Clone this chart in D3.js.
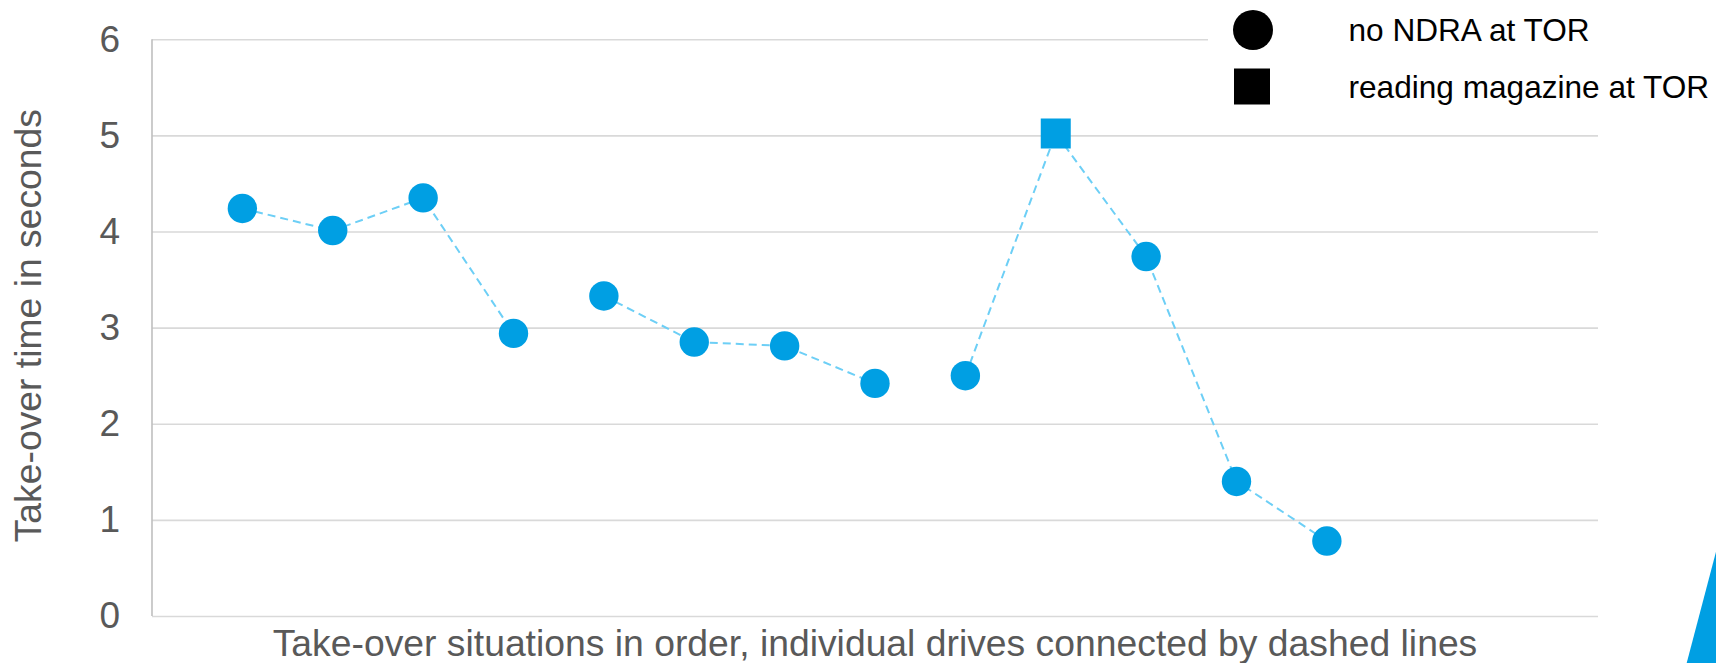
<!DOCTYPE html>
<html>
<head>
<meta charset="utf-8">
<script src="https://cdn.jsdelivr.net/npm/d3@7"></script>
<style>
  html, body { margin: 0; padding: 0; background: #fff; }
  svg { display: block; font-family: "Liberation Sans", Arial, sans-serif; }
</style>
</head>
<body>
<svg id="chart" width="1716" height="663"></svg>
<script>
// Take-over situations, in order of occurrence
const situations = [1, 2, 3, 4, 5, 6, 7, 8, 9, 10, 11, 12, 13];
// Take-over time (s) for each situation
const takeoverTimes = [4.24, 4.01, 4.35, 2.94, 3.33, 2.85, 2.81, 2.42, 2.50, 5.02, 3.74, 1.40, 0.78];
// Which drive each situation belongs to (situations of one drive are joined)
const driveIds = [1, 1, 1, 1, 2, 2, 2, 2, 3, 3, 3, 3, 3];
// Non-driving related activity at the take-over request
const activities = ["none", "none", "none", "none", "none", "none", "none", "none", "none",
                    "magazine", "none", "none", "none"];
const yTicks = [0, 1, 2, 3, 4, 5, 6];
const legendLabels = ["no NDRA at TOR", "reading magazine at TOR"];
const legendShapes = ["circle", "square"];

const W = 1716, H = 663;
const plot = { left: 152, right: 1598, top: 39.3, bottom: 616 };

const svg = d3.select("#chart");

const x = d3.scaleLinear().domain([0, 16]).range([plot.left, plot.right]);
const y = d3.scaleLinear().domain([0, 6]).range([plot.bottom, plot.top]);

const points = situations.map((s, i) => ({
  s, t: takeoverTimes[i], drive: driveIds[i], act: activities[i]
}));

// horizontal gridlines
const yAxis = d3.axisLeft(y).tickValues(yTicks).tickSize(-(plot.right - plot.left)).tickFormat(d3.format("d"));
const gy = svg.append("g").attr("transform", `translate(${plot.left},0)`).call(yAxis);
gy.select(".domain").remove();
gy.selectAll(".tick line").attr("stroke", "#d9d9d9").attr("stroke-width", 1.6);
gy.selectAll(".tick text")
  .attr("x", -32).attr("dy", "0.32em")
  .attr("fill", "#595959").style("font-size", "37px")
  .attr("font-family", "Liberation Sans, Arial, sans-serif");

// vertical axis line
svg.append("line")
  .attr("x1", plot.left).attr("x2", plot.left)
  .attr("y1", plot.top).attr("y2", plot.bottom)
  .attr("stroke", "#bfbfbf").attr("stroke-width", 1.6);

// dashed connectors, one per drive
const line = d3.line().x(d => x(d.s)).y(d => y(d.t));
const drives = d3.groups(points, d => d.drive);
svg.append("g").selectAll("path").data(drives).join("path")
  .attr("d", d => line(d[1]))
  .attr("fill", "none")
  .attr("stroke", "#6dcff6")
  .attr("stroke-width", 2)
  .attr("stroke-dasharray", "8,5");

// markers
const blue = "#009fe3";
const markers = svg.append("g");
markers.selectAll("circle").data(points.filter(d => d.act === "none")).join("circle")
  .attr("cx", d => x(d.s)).attr("cy", d => y(d.t)).attr("r", 14.7)
  .attr("fill", blue);
const sq = 30;
markers.selectAll("rect").data(points.filter(d => d.act === "magazine")).join("rect")
  .attr("x", d => x(d.s) - sq / 2).attr("y", d => y(d.t) - sq / 2)
  .attr("width", sq).attr("height", sq)
  .attr("fill", blue);

// axis titles
svg.append("text")
  .attr("transform", `translate(41,${(plot.top + plot.bottom) / 2 - 2}) rotate(-90)`)
  .attr("text-anchor", "middle")
  .attr("fill", "#595959").style("font-size", "37.3px")
  .text("Take-over time in seconds");

svg.append("text")
  .attr("x", (plot.left + plot.right) / 2).attr("y", 655.5)
  .attr("text-anchor", "middle")
  .attr("fill", "#595959").style("font-size", "37.3px")
  .text("Take-over situations in order, individual drives connected by dashed lines");

// legend on a white panel
const legend = svg.append("g");
legend.append("rect").attr("x", 1208).attr("y", 0).attr("width", W - 1208).attr("height", 118).attr("fill", "#fff");
const rowY = [30, 86.5];
legendLabels.forEach((lab, i) => {
  if (legendShapes[i] === "circle") {
    legend.append("circle").attr("cx", 1253).attr("cy", rowY[i]).attr("r", 20).attr("fill", "#000");
  } else {
    legend.append("rect").attr("x", 1234).attr("y", rowY[i] - 18).attr("width", 36).attr("height", 36).attr("fill", "#000");
  }
  legend.append("text")
    .attr("x", 1348.5).attr("y", rowY[i] + 11)
    .attr("fill", "#000").style("font-size", "31.6px")
    .text(lab);
});

// corner decoration
svg.append("polygon")
  .attr("points", [[W - 29.3, H], [W, H - 111.3], [W, H]].map(p => p.join(",")).join(" "))
  .attr("fill", blue);
</script>
</body>
</html>
